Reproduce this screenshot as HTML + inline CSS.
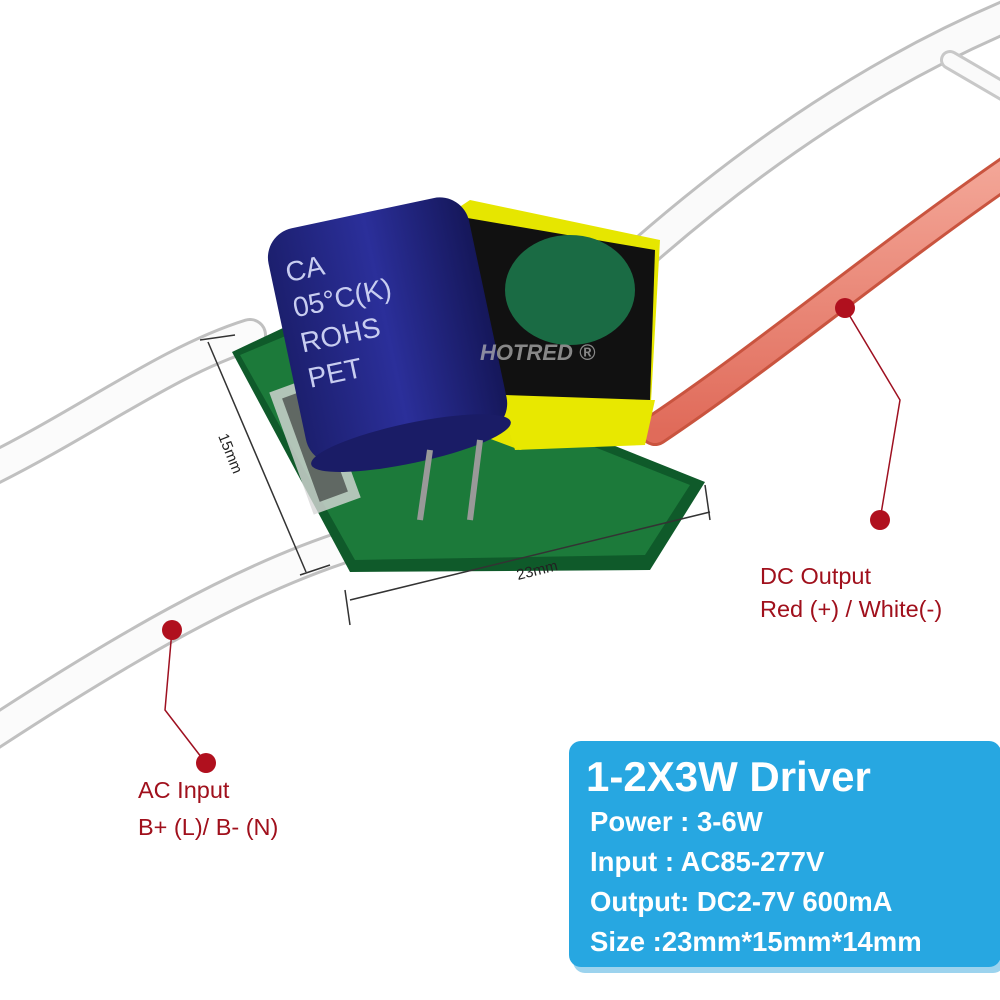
<!DOCTYPE html>
<html><head><meta charset="utf-8"><style>
html,body{margin:0;padding:0;background:#fff}
svg{display:block}
text{font-family:"Liberation Sans",sans-serif}
</style></head><body>
<svg width="1000" height="1000" viewBox="0 0 1000 1000" xmlns="http://www.w3.org/2000/svg">
<defs>
<linearGradient id="cap" x1="0" y1="0" x2="1" y2="0">
<stop offset="0" stop-color="#1c1f6e"/><stop offset="0.5" stop-color="#2b2f9a"/><stop offset="1" stop-color="#15175a"/>
</linearGradient>
<linearGradient id="red" x1="0" y1="0" x2="0" y2="1">
<stop offset="0" stop-color="#f3a596"/><stop offset="1" stop-color="#e06b5a"/>
</linearGradient>
</defs>
<rect width="1000" height="1000" fill="#fff"/>
<g fill="none" stroke-linecap="round">
<path d="M640 255 C 760 150, 880 70, 1010 15" stroke="#bfbfbf" stroke-width="34"/>
<path d="M640 255 C 760 150, 880 70, 1010 15" stroke="#fafafa" stroke-width="28"/>
<path d="M950 60 L1010 95" stroke="#c8c8c8" stroke-width="20"/>
<path d="M950 60 L1010 95" stroke="#fafafa" stroke-width="14"/>
<path d="M-10 470 C 90 420, 170 360, 250 335" stroke="#c0c0c0" stroke-width="34"/>
<path d="M-10 470 C 90 420, 170 360, 250 335" stroke="#fbfbfb" stroke-width="28"/>
<path d="M-10 735 C 120 650, 240 580, 350 545" stroke="#c0c0c0" stroke-width="34"/>
<path d="M-10 735 C 120 650, 240 580, 350 545" stroke="#fbfbfb" stroke-width="28"/>
<path d="M655 430 C 760 360, 880 260, 1010 170" stroke="#c9543f" stroke-width="32"/>
<path d="M655 430 C 760 360, 880 260, 1010 170" stroke="url(#red)" stroke-width="26"/>
</g>
<polygon points="232,352 300,320 705,482 650,570 350,572" fill="#0f5a2a"/>
<polygon points="240,355 300,330 690,485 645,555 355,560" fill="#1c7a3a"/>
<rect x="290" y="380" width="50" height="130" fill="#d8d8d8" transform="rotate(-20 315 445)" opacity="0.8"/>
<rect x="300" y="390" width="30" height="110" fill="#2a2a2a" transform="rotate(-20 315 445)" opacity="0.6"/>
<polygon points="440,220 470,200 660,240 650,420 520,450 440,420" fill="#e6e600"/>
<polygon points="450,215 655,250 650,400 505,395" fill="#111"/>
<ellipse cx="570" cy="290" rx="65" ry="55" fill="#1a6b44"/>
<polygon points="500,400 655,400 645,445 515,450" fill="#e8e800"/>
<g transform="rotate(-12 390 330)">
<rect x="285" y="210" width="205" height="240" rx="30" fill="url(#cap)"/>
<ellipse cx="387" cy="445" rx="102" ry="20" fill="#1a1c66"/>
<text x="300" y="262" fill="#c8cdf0" font-size="28">CA</text>
<text x="300" y="298" fill="#c8cdf0" font-size="28">05°C(K)</text>
<text x="300" y="334" fill="#c8cdf0" font-size="28">ROHS</text>
<text x="300" y="370" fill="#c8cdf0" font-size="28">PET</text>
</g>
<path d="M430 450 L420 520 M480 440 L470 520" stroke="#999" stroke-width="6" fill="none"/>
<text x="480" y="360" fill="#bbb" font-size="22" font-style="italic" font-weight="bold" opacity="0.7">HOTRED ®</text>
<g stroke="#333" stroke-width="1.5" fill="none">
<line x1="208" y1="342" x2="306" y2="572"/>
<line x1="200" y1="340" x2="235" y2="335"/>
<line x1="300" y1="575" x2="330" y2="565"/>
<line x1="350" y1="600" x2="710" y2="512"/>
<line x1="345" y1="590" x2="350" y2="625"/>
<line x1="705" y1="485" x2="710" y2="520"/>
</g>
<text x="0" y="0" font-size="15" fill="#222" transform="translate(218 436) rotate(68)">15mm</text>
<text x="0" y="0" font-size="15" fill="#222" transform="translate(518 580) rotate(-14)">23mm</text>
<g stroke="#9e1020" stroke-width="1.5" fill="none">
<polyline points="845,308 900,400 880,520"/>
<polyline points="172,630 165,710 205,762"/>
</g>
<g fill="#b0101e">
<circle cx="845" cy="308" r="10"/><circle cx="880" cy="520" r="10"/>
<circle cx="172" cy="630" r="10"/><circle cx="206" cy="763" r="10"/>
</g>
<text x="760" y="584" font-size="23.5" fill="#a0101c">DC Output</text>
<text x="760" y="617" font-size="23.5" fill="#a0101c">Red (+) / White(-)</text>
<text x="138" y="798" font-size="23.5" fill="#a0101c">AC Input</text>
<text x="138" y="835" font-size="23.5" fill="#a0101c">B+ (L)/ B- (N)</text>
<rect x="573" y="745" width="432" height="228" rx="12" fill="#9cd3ee"/>
<rect x="569" y="741" width="432" height="226" rx="12" fill="#27a7e1"/>
<text x="586" y="791" font-size="42" font-weight="bold" fill="#fff">1-2X3W Driver</text>
<text x="590" y="831" font-size="27.5" font-weight="bold" fill="#fff">Power : 3-6W</text>
<text x="590" y="871" font-size="27.5" font-weight="bold" fill="#fff">Input : AC85-277V</text>
<text x="590" y="911" font-size="27.5" font-weight="bold" fill="#fff">Output: DC2-7V 600mA</text>
<text x="590" y="951" font-size="27.5" font-weight="bold" fill="#fff">Size :23mm*15mm*14mm</text>
</svg>
</body></html>
